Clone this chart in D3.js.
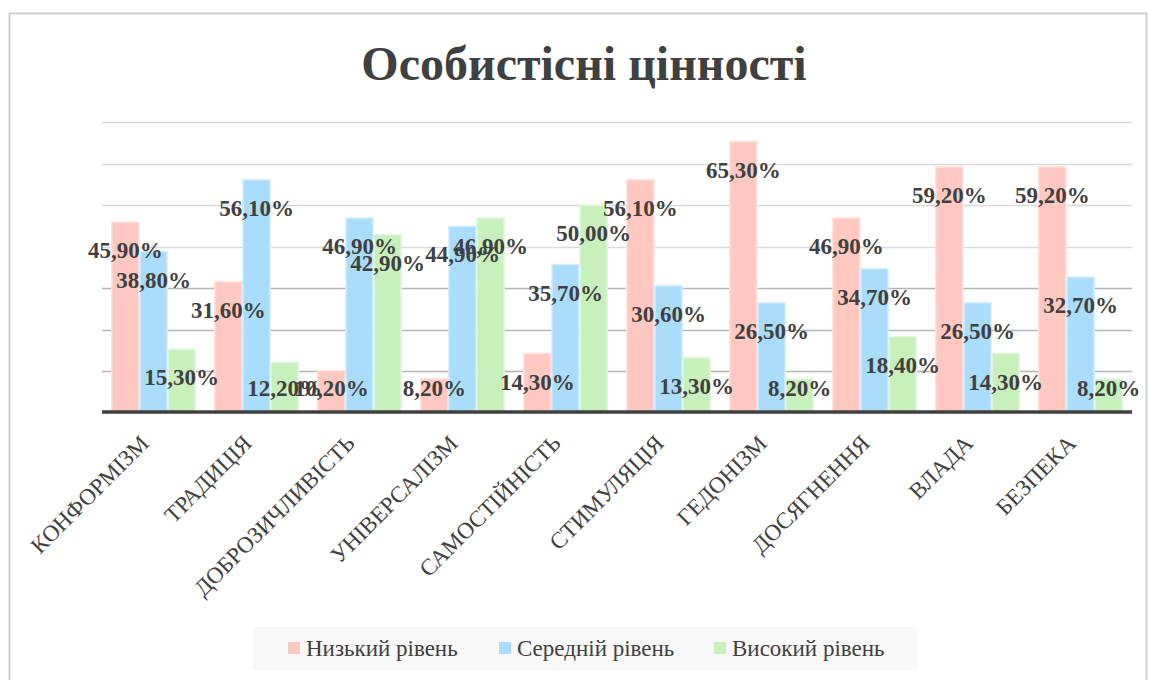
<!DOCTYPE html>
<html>
<head>
<meta charset="utf-8">
<script src="https://cdn.jsdelivr.net/npm/d3@7"></script>
<style>
    body { margin: 0; background: #fff; }
    svg { display: block; }
</style>
</head>
<body>
<svg></svg>
<script>
// дані з діаграми
const categories = ["КОНФОРМІЗМ", "ТРАДИЦІЯ", "ДОБРОЗИЧЛИВІСТЬ", "УНІВЕРСАЛІЗМ", "САМОСТІЙНІСТЬ",
    "СТИМУЛЯЦІЯ", "ГЕДОНІЗМ", "ДОСЯГНЕННЯ", "ВЛАДА", "БЕЗПЕКА"];
const seriesNames = ["Низький рівень", "Середній рівень", "Високий рівень"];
const lowValues = [45.9, 31.6, 10.2, 8.2, 14.3, 56.1, 65.3, 46.9, 59.2, 59.2];
const midValues = [38.8, 56.1, 46.9, 44.9, 35.7, 30.6, 26.5, 34.7, 26.5, 32.7];
const highValues = [15.3, 12.2, 42.9, 46.9, 50.0, 13.3, 8.2, 18.4, 14.3, 8.2];
const gridTicks = [0, 10, 20, 30, 40, 50, 60, 70];

const colors = ["#ffc8c0", "#a9ddfb", "#c8f0bd"];
const strokes = ["#ffe1dc", "#d2edfd", "#e2f7dd"];
const textColor = "#404040";
const serif = "'Liberation Serif', 'Times New Roman', serif";

const width = 1149,
    height = 680;

const svg = d3.select("svg")
    .attr("width", width)
    .attr("height", height);

// рамка
svg.append("rect")
    .attr("x", 9.5)
    .attr("y", 13.5)
    .attr("width", 1137)
    .attr("height", 700)
    .attr("fill", "white")
    .attr("stroke", "#cfcfcf")
    .attr("stroke-width", 2);

// заголовок
svg.append("text")
    .attr("x", 584)
    .attr("y", 80)
    .attr("text-anchor", "middle")
    .attr("font-family", serif)
    .attr("font-weight", "bold")
    .attr("font-size", 48)
    .attr("fill", textColor)
    .text("Особистісні цінності");

const x = d3.scaleBand()
    .domain(categories)
    .range([102, 1132])
    .paddingInner(0.18)
    .paddingOuter(0.09);

const xSub = d3.scaleBand()
    .domain(d3.range(seriesNames.length))
    .range([0, x.bandwidth()]);

const y = d3.scaleLinear()
    .domain([0, 70])
    .range([413, 122]);

// сітка
svg.append("g").attr("class", "grid")
    .selectAll("line")
    .data(gridTicks.slice(1))
    .enter()
    .append("line")
    .attr("x1", 102)
    .attr("x2", 1132)
    .attr("y1", d => Math.round(y(d)) + 0.5)
    .attr("y2", d => Math.round(y(d)) + 0.5)
    .attr("stroke", d => d <= 30 ? "#b4b4b4" : "#dadada")
    .attr("stroke-width", 1.5);

const allSeries = [lowValues, midValues, highValues];
const barData = [];
allSeries.forEach((vals, s) => {
    vals.forEach((v, i) => {
        barData.push({ category: categories[i], series: s, value: v });
    });
});

// стовпці
svg.append("g").attr("class", "bars")
    .selectAll("rect")
    .data(barData)
    .enter()
    .append("rect")
    .attr("x", d => x(d.category) + xSub(d.series) + 0.5)
    .attr("y", d => y(d.value))
    .attr("width", xSub.bandwidth() - 1)
    .attr("height", d => y(0) - y(d.value))
    .attr("fill", d => colors[d.series])
    .attr("stroke", d => strokes[d.series])
    .attr("stroke-width", 1.5);

// вісь
svg.append("line")
    .attr("x1", 102)
    .attr("x2", 1132)
    .attr("y1", y(0) - 1)
    .attr("y2", y(0) - 1)
    .attr("stroke", textColor)
    .attr("stroke-width", 3.5);

// підписи значень
const fmt = v => v.toFixed(2).replace(".", ",") + "%";
svg.append("g").attr("class", "valueLabels")
    .selectAll("text")
    .data(barData)
    .enter()
    .append("text")
    .attr("x", d => x(d.category) + xSub(d.series) + xSub.bandwidth() / 2)
    .attr("y", d => Math.min(y(d.value) + 28, 388))
    .attr("dy", "0.35em")
    .attr("text-anchor", "middle")
    .attr("font-family", serif)
    .attr("font-weight", "bold")
    .attr("font-size", 23)
    .attr("fill", textColor)
    .text(d => fmt(d.value));

// підписи категорій
svg.append("g").attr("class", "categoryLabels")
    .selectAll("text")
    .data(categories)
    .enter()
    .append("text")
    .attr("transform", d => `translate(${x(d) + x.bandwidth() / 2 - 9} ${y(0) + 26}) rotate(-45)`)
    .attr("text-anchor", "end")
    .attr("dy", "0.35em")
    .attr("font-family", serif)
    .attr("font-size", 23)
    .attr("fill", textColor)
    .text(d => d);

// легенда
const legend = svg.append("g").attr("class", "legend");
legend.append("rect")
    .attr("x", 253)
    .attr("y", 627)
    .attr("width", 665)
    .attr("height", 43)
    .attr("fill", "#f8f8f8");

const legendX = [288, 499, 714];
const items = legend.selectAll("g")
    .data(seriesNames)
    .enter()
    .append("g")
    .attr("transform", (d, i) => `translate(${legendX[i]} 642)`);

items.append("rect")
    .attr("width", 12)
    .attr("height", 12)
    .attr("fill", (d, i) => colors[i]);

items.append("text")
    .attr("x", 18)
    .attr("y", 14)
    .attr("font-family", serif)
    .attr("font-size", 23)
    .attr("fill", textColor)
    .text(d => d);
</script>
</body>
</html>
